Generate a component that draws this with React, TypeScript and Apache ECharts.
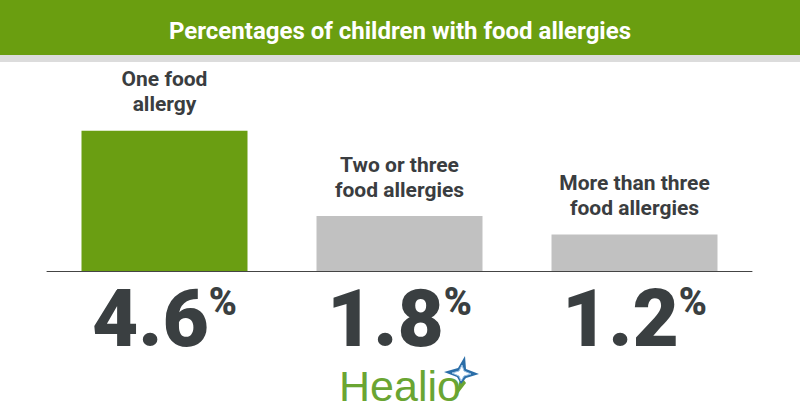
import React, { useEffect, useRef } from "react";
import * as echarts from "echarts";

const categories = ["One food\nallergy", "Two or three\nfood allergies", "More than three\nfood allergies"];
const values = [4.6, 1.8, 1.2];
const barColors = ["#6a9e12", "#c1c1c1", "#c1c1c1"];
const titleText = "Percentages of children with food allergies";
const logoText = "Healio";

export default function App() {
  const ref = useRef<HTMLDivElement>(null);
  useEffect(() => {
    document.body.style.margin = "0";
    document.body.style.overflow = "hidden";
    if (!ref.current) return;
    const chart = echarts.init(ref.current, null, { renderer: "svg" });
    const font = "Roboto, 'Noto Sans', sans-serif";
    chart.setOption({
      animation: false,
      backgroundColor: "#ffffff",
      title: {
        text: titleText,
        left: "center",
        top: 14,
        textStyle: { color: "#ffffff", fontSize: 24, fontWeight: "bold", fontFamily: font },
      },
      graphic: [
        { type: "rect", z: -1, left: 0, top: 0, shape: { x: 0, y: 0, width: 800, height: 55 }, style: { fill: "#6a9e10" } },
        { type: "rect", z: -1, left: 0, top: 55, shape: { x: 0, y: 0, width: 800, height: 7 }, style: { fill: "#dcdcdc" } },
        {
          type: "text",
          left: 339,
          top: 364,
          style: { text: logoText, fill: "#6aa532", font: "43px 'Liberation Sans', Arial, sans-serif" },
        },
        {
          type: "polygon",
          shape: { points: [[461, 376], [466, 383], [456, 396], [459, 383]] },
          style: { fill: "#6aa532" },
        },
        {
          type: "polygon",
          shape: { points: [[465, 356], [466, 369], [479, 374], [466, 378], [461, 384], [457, 377], [444, 372], [458, 368]] },
          style: { fill: "#2b6ea8" },
        },
        {
          type: "polygon",
          shape: { points: [[462, 365], [464, 371], [471, 374], [464, 376], [461, 381], [459, 376], [452, 373], [459, 371]] },
          style: { fill: "#ffffff", stroke: "#9cc3e6", lineWidth: 1 },
        },
      ],
      grid: { left: 47, right: 48, top: 88, bottom: 149 },
      xAxis: {
        type: "category",
        data: categories,
        axisLine: { show: true, lineStyle: { color: "#444444", width: 1 } },
        axisTick: { show: false },
        axisLabel: {
          margin: 12,
          formatter: (_v: string, i: number) => `{v|${values[i].toFixed(1)}}{p|%}`,
          rich: {
            v: { fontSize: 80, fontWeight: 900, color: "#3a3f41", fontFamily: font, lineHeight: 72 },
            p: { fontSize: 38, fontWeight: 900, color: "#3a3f41", fontFamily: font, verticalAlign: "top", lineHeight: 40, padding: [0, 0, 0, 0] },
          },
        },
      },
      yAxis: {
        type: "value",
        min: 0,
        max: 6,
        show: false,
        splitLine: { show: false },
      },
      series: [
        {
          type: "bar",
          barWidth: 166,
          data: values.map((v, i) => ({ value: v, itemStyle: { color: barColors[i] } })),
          label: {
            show: true,
            position: "top",
            distance: 14,
            formatter: (p: any) => categories[p.dataIndex],
            color: "#3a3d40",
            fontSize: 21,
            fontWeight: "bold",
            fontFamily: font,
            lineHeight: 25,
            align: "center",
          },
        },
      ],
    });
    return () => chart.dispose();
  }, []);
  return <div ref={ref} style={{ width: 800, height: 420 }} />;
}
